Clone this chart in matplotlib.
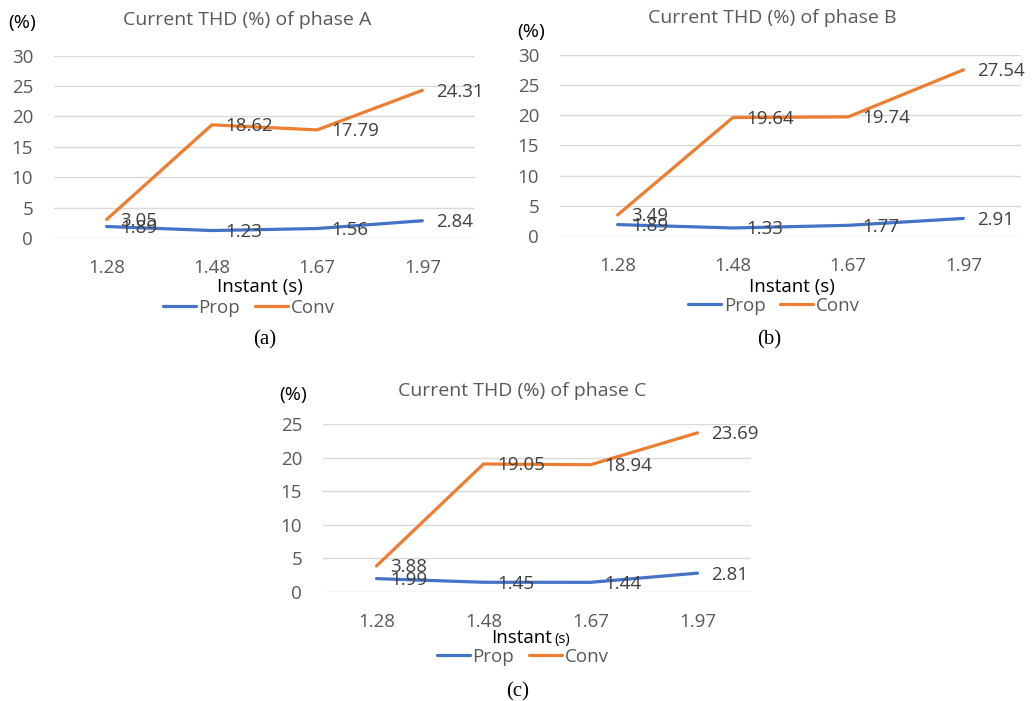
import matplotlib
matplotlib.use("Agg")
import matplotlib.pyplot as plt

plt.rcParams['font.family'] = ['Open Sans', 'DejaVu Sans']

instants = ['1.28', '1.48', '1.67', '1.97']

prop_a = [1.89, 1.23, 1.56, 2.84]
conv_a = [3.05, 18.62, 17.79, 24.31]
prop_b = [1.89, 1.33, 1.77, 2.91]
conv_b = [3.49, 19.64, 19.74, 27.54]
prop_c = [1.99, 1.45, 1.44, 2.81]
conv_c = [3.88, 19.05, 18.94, 23.69]

titles = ['Current THD (%) of phase A', 'Current THD (%) of phase B',
          'Current THD (%) of phase C']

BLUE = '#4472C4'
ORANGE = '#ED7D31'
GRAY = '#595959'
DARK = '#404040'
GRID = '#D9D9D9'

W, H = 1032, 701
fig = plt.figure(figsize=(W / 100, H / 100), dpi=100)


def px(x, y):
    # pixel coords of the reference -> figure fraction
    return x / W, 1 - y / H


def make_panel(rect, prop, conv, ymax, title, tpos, ppos, ipos, lpos, cpos, letter,
               small_s=False):
    ax = fig.add_axes(rect)
    xs = range(len(instants))
    ax.plot(xs, prop, color=BLUE, lw=2.3, label='Prop', solid_capstyle='round')
    ax.plot(xs, conv, color=ORANGE, lw=2.3, label='Conv', solid_capstyle='round')
    for series in (prop, conv):
        for x, v in zip(xs, series):
            ax.annotate(f'{v:.2f}', (x, v), xytext=(10, -1), textcoords='offset points',
                        ha='left', va='center', fontsize=13.5, color=DARK)
    ax.set_xlim(-0.5, len(instants) - 0.5)
    ax.set_ylim(0, ymax)
    ax.set_yticks(range(0, ymax + 1, 5))
    ax.set_xticks(list(xs))
    ax.set_xticklabels(instants)
    ax.tick_params(length=0, labelsize=13.5, labelcolor=GRAY)
    ax.tick_params(axis='y', pad=15)
    ax.tick_params(axis='x', pad=15)
    ax.grid(axis='y', color=GRID, lw=1)
    ax.set_axisbelow(True)
    for s in ax.spines.values():
        s.set_visible(False)

    fig.text(*px(*tpos), title, ha='center', va='center', fontsize=14, color=GRAY)
    fig.text(*px(*ppos), '(%)', ha='center', va='center', fontsize=14, color='black')
    if small_s:
        x, y = ipos
        fig.text(*px(x + 19, y), 'Instant', ha='right', va='center', fontsize=13.5,
                 color='black')
        fig.text(*px(x + 21, y + 1), '(s)', ha='left', va='center', fontsize=10.5,
                 color='black')
    else:
        fig.text(*px(*ipos), 'Instant (s)', ha='center', va='center', fontsize=13.5,
                 color='black')
    ax.legend(loc='center', bbox_to_anchor=px(*lpos), bbox_transform=fig.transFigure,
              ncol=2, frameon=False, fontsize=13.5, labelcolor=GRAY, handlelength=1.75,
              handletextpad=0.15, columnspacing=0.8, borderpad=0)
    fig.text(*px(*cpos), letter, ha='center', va='center', fontsize=15,
             family='Liberation Serif', color='black')
    return ax


make_panel([54 / W, 1 - 238 / H, 421 / W, 182.3 / H], prop_a, conv_a, 30, titles[0],
           (247, 20), (22, 23), (260, 287), (249, 308), (265, 340), '(a)')
make_panel([560 / W, 1 - 236 / H, 461 / W, 181 / H], prop_b, conv_b, 30, titles[1],
           (772, 18), (531, 32), (792, 287), (774, 306), (769, 340), '(b)')
make_panel([323 / W, 1 - 592 / H, 428 / W, 168 / H], prop_c, conv_c, 25, titles[2],
           (522, 391), (293, 395), (533, 638), (523, 657), (518, 692), '(c)',
           small_s=True)

fig.savefig('out.png', dpi=100, facecolor='white')
